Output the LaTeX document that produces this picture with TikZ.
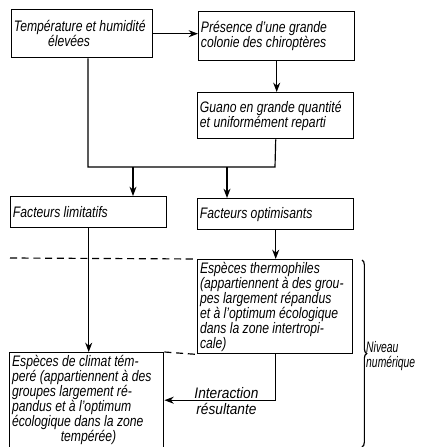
\documentclass[tikz,border=0pt]{standalone}
\usepackage{fontspec}
\setmainfont{Liberation Sans}
\usepackage{graphicx}
\usetikzlibrary{arrows.meta}
\usetikzlibrary{decorations.pathreplacing}

% texte etroit, aligne a gauche
\newcommand{\cnd}[3][0.8]{\scalebox{#1}[1]{\parbox[t]{#2}{\raggedright\lineskiplimit=-20pt\relax #3}}}

\begin{document}
\begin{tikzpicture}[
        x=0.03cm, y=-0.03cm,
        >={Stealth[length=8pt,width=6pt]},
        every node/.style={font=\itshape\fontsize{13}{12.8}\selectfont},
        box/.style={draw, line width=1.2pt, inner sep=1.5pt, anchor=north west},
        lnk/.style={line width=1pt},
        arr/.style={->, line width=1pt}
    ]
    \useasboundingbox (0,0) rectangle (421,447);

    \node[box, minimum width=4.23cm, minimum height=1.44cm] (temp) at (11,9)
        {\cnd{5.12cm}{Température et humidité\\\hspace*{2.8em}élevées}};
    \node[box, minimum width=4.68cm, minimum height=1.47cm] (pres) at (198,11)
        {\cnd{5.68cm}{Présence d'une grande\\colonie des chiroptères}};
    \node[box, minimum width=4.68cm, minimum height=1.38cm] (guano) at (197,92)
        {\cnd{5.68cm}{Guano en grande quantité\\et uniformément reparti}};

    \node[box, minimum width=4.68cm, minimum height=0.93cm] (lim) at (10,196)
        {\cnd{5.68cm}{Facteurs limitatifs}};
    \node[box, minimum width=4.68cm, minimum height=0.93cm] (opt) at (197,198)
        {\cnd{5.68cm}{Facteurs optimisants}};

    \node[box, minimum width=4.65cm, minimum height=2.82cm] (therm) at (197,259)
        {\cnd{5.64cm}{Espèces thermophiles\\(appartiennent à des grou-\\pes largement répandus\\et à l'optimum écologique\\dans la zone intertropi-\\cale)}};
    \node[box, minimum width=4.62cm, minimum height=2.85cm] (tempe) at (9,352)
        {\cnd{5.6cm}{Espèces de climat tém-\\peré (appartiennent à des\\groupes largement ré-\\pandus et à l'optimum\\écologique dans la zone\\\hspace*{4em}tempérée)}};

    \node[anchor=west, inner sep=0pt] (niv) at (366,356) {\cnd[0.68]{2.4cm}{Niveau\\numérique}};

    % liaisons
    \draw[arr] (temp.east) -- (temp.east -| pres.west);
    \draw[arr] (pres.south) -- (pres.south |- guano.north);

    \coordinate (jl) at (88,167);
    \coordinate (jr) at (275,167);
    \coordinate (sl) at (133,167);
    \coordinate (so) at (227,167);
    \draw[lnk] (jl |- temp.south) -- (jl) -- (jr) -- (guano.south);
    \draw[arr] (sl) -- (sl |- lim.north);
    \draw[arr] (so) -- (so |- opt.north);

    \draw[arr] (lim.south) -- (lim.south |- tempe.north);
    \draw[arr] (opt.south) -- (opt.south |- therm.north);

    \draw[arr] (therm.south) |- (tempe.east)
        node[pos=0.72, above, inner sep=1pt] {\scalebox{0.9}[1]{Interaction}}
        node[pos=0.72, below, inner sep=2pt] {\scalebox{0.9}[1]{résultante}};

    % niveaux
    \coordinate (dl) at (10,258);
    \draw[lnk, dashed, dash pattern=on 6pt off 4pt] (dl) -- (therm.north west);
    \draw[lnk, dashed, dash pattern=on 6pt off 4pt] (tempe.north east) -- (therm.south west);

    \coordinate (bt) at (362,260);
    \coordinate (bb) at (362,447);
    \draw[lnk, decorate, decoration={brace, amplitude=4pt}] (bt) -- (bb);
\end{tikzpicture}
\end{document}
